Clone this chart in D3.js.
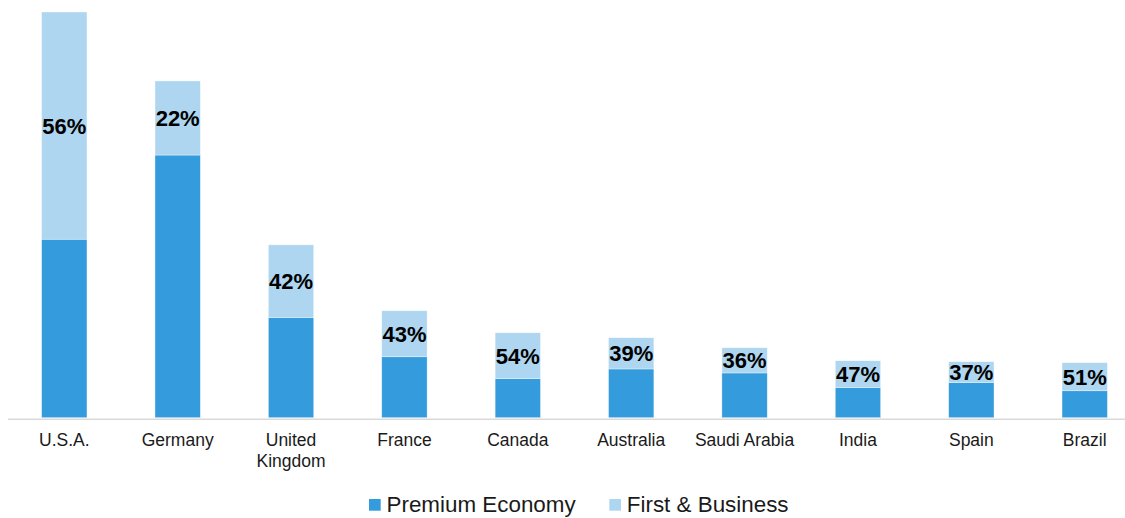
<!DOCTYPE html>
<html>
<head>
<meta charset="utf-8">
<script src="https://cdn.jsdelivr.net/npm/d3@7"></script>
<style>
  html, body { margin: 0; padding: 0; background: #ffffff; }
  svg { display: block; font-family: "Liberation Sans", Arial, sans-serif; }
</style>
</head>
<body>
<svg id="chart" width="1125" height="518"></svg>
<script>
// Markets ranked by premium seat volume
const countries = ["U.S.A.", "Germany", "United Kingdom", "France", "Canada",
                   "Australia", "Saudi Arabia", "India", "Spain", "Brazil"];
// Total premium seats (Premium Economy + First & Business), relative units
const totals = [406, 337, 173, 107, 85, 80, 70, 57, 56, 55];
// Share of First & Business within the premium total (%)
const firstBusinessShare = [56, 22, 42, 43, 54, 39, 36, 47, 37, 51];
const seriesNames = ["Premium Economy", "First & Business"];

const colors = { "Premium Economy": "#349bdc", "First & Business": "#aed6f0" };

const rows = countries.map((c, i) => {
  const fb = totals[i] * firstBusinessShare[i] / 100;
  return {
    country: c,
    "First & Business": fb,
    "Premium Economy": totals[i] - fb,
    share: firstBusinessShare[i]
  };
});

const svg = d3.select("#chart");

const x = d3.scaleBand()
  .domain(countries)
  .range([7.6, 1141.4])
  .paddingInner(0.6)
  .paddingOuter(0.3);

const y = d3.scaleLinear()
  .domain([0, d3.max(totals)])
  .range([417.7, 12]);

const stacked = d3.stack().keys(seriesNames)(rows);

// Stacked bars
svg.append("g")
  .selectAll("g")
  .data(stacked)
  .join("g")
    .attr("fill", d => colors[d.key])
  .selectAll("rect")
  .data(d => d)
  .join("rect")
    .attr("x", d => x(d.data.country))
    .attr("width", x.bandwidth())
    .attr("y", d => y(d[1]))
    .attr("height", d => y(d[0]) - y(d[1]))
    .attr("stroke", "rgba(255,255,255,0.6)")
    .attr("stroke-width", 0.6);

// Category axis
const axis = svg.append("g")
  .attr("transform", "translate(0,418.8)")
  .call(d3.axisBottom(x).tickSize(0).tickPadding(0));

axis.select(".domain")
  .attr("stroke", "#d9d9d9")
  .attr("stroke-width", 1.6);

axis.selectAll(".tick text")
  .attr("font-family", "Liberation Sans, Arial, sans-serif")
  .attr("font-size", "17.5px")
  .attr("fill", "#1a1a1a")
  .attr("dy", null)
  .attr("y", 27)
  .each(function () {
    // wrap labels wider than the band step onto two lines
    const text = d3.select(this);
    const words = text.text().split(/\s+/);
    const maxW = x.step() - 6;
    if (this.getComputedTextLength() <= maxW || words.length < 2) return;
    text.text(null);
    let line = [];
    let tspan = text.append("tspan").attr("x", 0).attr("y", 27);
    let lineNo = 0;
    words.forEach(w => {
      line.push(w);
      tspan.text(line.join(" "));
      if (tspan.node().getComputedTextLength() > maxW && line.length > 1) {
        line.pop();
        tspan.text(line.join(" "));
        line = [w];
        lineNo++;
        tspan = text.append("tspan").attr("x", 0).attr("y", 27 + lineNo * 21).text(w);
      }
    });
  });

// Share labels centred in the First & Business segment
const fbLayer = stacked.find(s => s.key === "First & Business");
svg.append("g")
  .selectAll("text")
  .data(fbLayer)
  .join("text")
    .attr("x", d => x(d.data.country) + x.bandwidth() / 2)
    .attr("y", d => (y(d[0]) + y(d[1])) / 2 + 8)
    .attr("text-anchor", "middle")
    .attr("font-size", "22px")
    .attr("font-weight", "bold")
    .attr("fill", "#000")
    .text(d => d.data.share + "%");

// Legend
const legendItems = [
  { name: "Premium Economy", x: 369 },
  { name: "First & Business", x: 609.3 }
];
const legend = svg.append("g");
const li = legend.selectAll("g")
  .data(legendItems)
  .join("g")
    .attr("transform", d => `translate(${d.x},499)`);
li.append("rect")
  .attr("width", 11.7)
  .attr("height", 11.7)
  .attr("fill", d => colors[d.name]);
li.append("text")
  .attr("x", 17.5)
  .attr("y", 13)
  .attr("font-size", "22.4px")
  .attr("fill", "#1a1a1a")
  .text(d => d.name);
</script>
</body>
</html>
